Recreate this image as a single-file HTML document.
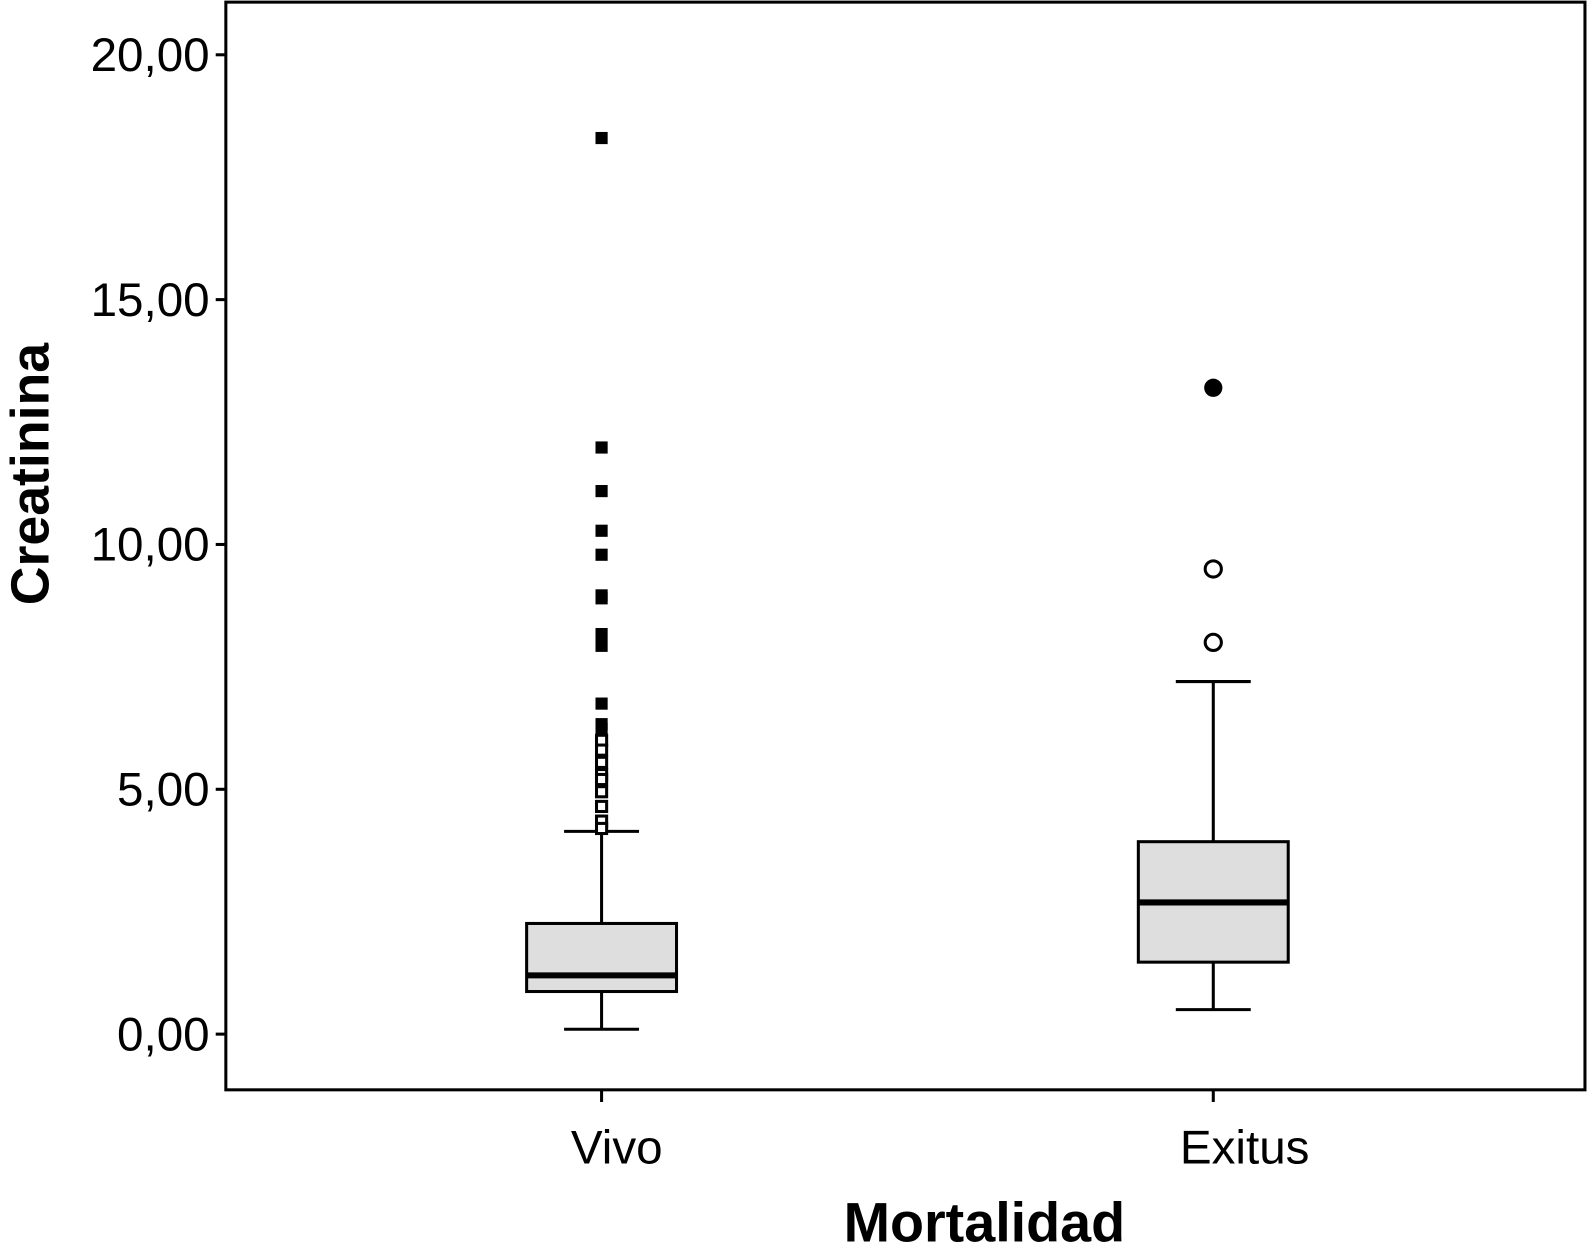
<!DOCTYPE html>
<html><head><meta charset="utf-8"><style>
body{margin:0;background:#fff;}
svg{display:block;font-family:"Liberation Sans",Arial,sans-serif;}
</style></head><body>
<svg id="chart" width="1588" height="1254" viewBox="0 0 1568 1238"></svg>
<script>
const categories=["Vivo","Exitus"];
const q1=[0.87,1.47];
const medians=[1.2,2.69];
const q3=[2.26,3.93];
const whiskLow=[0.1,0.5];
const whiskHigh=[4.14,7.2];
const extremeVivo=[18.3,11.98,11.09,10.28,9.79,8.96,8.9,8.17,7.93,6.75,6.33,6.23];
const outlierVivo=[6.0,5.8,5.55,5.3,5.2,4.95,4.65,4.35,4.2];
const extremeExitus=[13.2];
const outlierExitus=[9.5,8.0];
const yTicks=[0,5,10,15,20];
const yTickLabels=["0,00","5,00","10,00","15,00","20,00"];

const NS="http://www.w3.org/2000/svg";
const svg=document.getElementById('chart');
const L=223,R=1565,T=2,B=1076;
const y=v=>1021-v*48.35;
const xc=[594,1198];
const labelOffset=[15,31];
const bw=150;
function mk(tag,attrs,parent){const e=document.createElementNS(NS,tag);for(const k in attrs)e.setAttribute(k,attrs[k]);(parent||svg).appendChild(e);return e;}

const frame=mk('rect',{x:L,y:T,width:R-L,height:B-T,fill:'none',stroke:'#000','stroke-width':3});



yTicks.forEach((t,i)=>{
  const ln=mk('line',{x1:213,x2:L,y1:y(t),y2:y(t),stroke:'#000','stroke-width':3});
  
  
  const tx=mk('text',{x:207,y:y(t)+16,'text-anchor':'end','font-size':47});
  tx.textContent=yTickLabels[i];
  
  
});

categories.forEach((c,i)=>{
  const x=xc[i];
  const tk=mk('line',{x1:x,x2:x,y1:B,y2:B+12,stroke:'#000','stroke-width':3});
  
  
  const tx=mk('text',{x:x+labelOffset[i],y:1149,'text-anchor':'middle','font-size':47});
  tx.textContent=c;
  
  
  const g=mk('g',{});
  
  
  mk('line',{x1:x,x2:x,y1:y(q3[i]),y2:y(whiskHigh[i]),stroke:'#000','stroke-width':3},g);
  mk('line',{x1:x,x2:x,y1:y(q1[i]),y2:y(whiskLow[i]),stroke:'#000','stroke-width':3},g);
  mk('line',{x1:x-37,x2:x+37,y1:y(whiskHigh[i]),y2:y(whiskHigh[i]),stroke:'#000','stroke-width':3},g);
  mk('line',{x1:x-37,x2:x+37,y1:y(whiskLow[i]),y2:y(whiskLow[i]),stroke:'#000','stroke-width':3},g);
  mk('rect',{x:x-bw/2+1,y:y(q3[i]),width:bw-2,height:y(q1[i])-y(q3[i]),fill:'#dedede',stroke:'#000','stroke-width':3},g);
  mk('line',{x1:x-bw/2+1,x2:x+bw/2-1,y1:y(medians[i]),y2:y(medians[i]),stroke:'#000','stroke-width':6},g);
});

extremeVivo.forEach(v=>{
  const r=mk('rect',{x:xc[0]-6,y:y(v)-6,width:12,height:12,fill:'#000'});
  
  
});
outlierVivo.forEach(v=>{
  const r=mk('rect',{x:xc[0]-5,y:y(v)-5,width:10,height:10,fill:'#fff',stroke:'#000','stroke-width':3});
  
  
});
extremeExitus.forEach(v=>{
  const c=mk('circle',{cx:xc[1],cy:y(v),r:9,fill:'#000'});
  
  
});
outlierExitus.forEach(v=>{
  const c=mk('circle',{cx:xc[1],cy:y(v),r:8,fill:'#fff',stroke:'#000','stroke-width':3});
  
  
});

const yt=mk('text',{x:0,y:0,transform:'translate(48,468) rotate(-90)','text-anchor':'middle','font-size':53,'font-weight':'bold'});
yt.textContent='Creatinina';


const xt=mk('text',{x:972,y:1226,'text-anchor':'middle','font-size':55,'font-weight':'bold'});
xt.textContent='Mortalidad';


</script>
</body></html>
